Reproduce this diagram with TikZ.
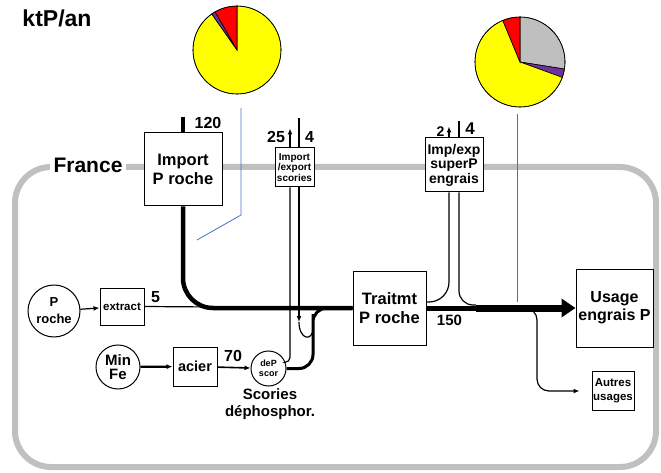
\documentclass[tikz,border=0pt]{standalone}
\usepackage{fontspec}
\setmainfont{Liberation Sans}
\usetikzlibrary{arrows.meta}
\definecolor{pyellow}{RGB}{255,255,0}
\definecolor{pred}{RGB}{255,0,0}
\definecolor{ppurple}{RGB}{112,48,160}
\definecolor{pgrey}{RGB}{191,191,191}
\definecolor{framegray}{RGB}{192,192,192}
\definecolor{guide}{RGB}{68,114,196}
\newcommand{\fsz}[2]{\fontsize{#1}{#2}\selectfont\bfseries}
\tikzset{
  pbox/.style  = {draw, fill=white, line width=1pt, align=center,
                  inner sep=0pt, font=\fsz{16.5}{19}},
  pcirc/.style = {pbox, circle},
  lbl/.style   = {font=\fsz{16}{19}, inner sep=0pt, align=center},
  fthin/.style = {draw=black, line width=1.2pt},
  fmed/.style  = {draw=black, line width=2.2pt},
  fthick/.style= {draw=black, line width=4.5pt},
  arr/.style   = {-{Latex[length=6pt,width=5pt]}},
  slice/.style = {draw=black, line width=0.6pt},
}

\begin{document}
\begin{tikzpicture}[x=1pt, y=-1pt]
  \useasboundingbox (0,0) rectangle (661,473);

  % France
  \draw[framegray, line width=6pt, rounded corners=36pt] (15,167) rectangle (656,467);

  % pies
  \begin{scope}[shift={(237,50)}]
    \filldraw[slice, fill=pyellow] (0,0) -- (125:44pt) arc[start angle=125, end angle=450, radius=44pt] -- cycle;
    \filldraw[slice, fill=pred] (0,0) -- (90:44pt) arc[start angle=90, end angle=120, radius=44pt] -- cycle;
    \filldraw[slice, fill=ppurple] (0,0) -- (120:44pt) arc[start angle=120, end angle=125, radius=44pt] -- cycle;
    \draw[slice] (0,0) circle[radius=44pt];
  \end{scope}
  \begin{scope}[shift={(520,62)}]
    \filldraw[slice, fill=pgrey] (0,0) -- (-9:45pt) arc[start angle=-9, end angle=90, radius=45pt] -- cycle;
    \filldraw[slice, fill=ppurple] (0,0) -- (-20:45pt) arc[start angle=-20, end angle=-9, radius=45pt] -- cycle;
    \filldraw[slice, fill=pyellow] (0,0) -- (112.5:45pt) arc[start angle=112.5, end angle=340, radius=45pt] -- cycle;
    \filldraw[slice, fill=pred] (0,0) -- (90:45pt) arc[start angle=90, end angle=112.5, radius=45pt] -- cycle;
    \draw[slice] (0,0) circle[radius=45pt];
  \end{scope}

  \draw[guide, line width=0.8pt] (241,108) -- (241,215) -- (197,240);
  \draw[guide, line width=0.7pt] (517,114) -- (517,302);

  \node[lbl, font=\fsz{23}{25}] (unit) at (57,18) {ktP/an};
  \node[lbl, font=\fsz{21}{23}, fill=white, inner sep=4pt] (fr) at (88,165) {France};

  \node[pbox, minimum width=78pt, minimum height=73pt] (imp) at (183,169.5) {Import\\P roche};
  \node[pbox, minimum width=39pt, minimum height=39pt, font=\fsz{10}{8}] (scor) at (294.5,167.5) {Import\\/export\\scories};
  \node[pbox, minimum width=58pt, minimum height=54pt, font=\fsz{14}{14.5}] (sup) at (454,165) {Imp/exp\\superP\\engrais};
  \node[pcirc, minimum size=52pt, font=\fsz{13}{17}] (proche) at (54,311) {P\\roche};
  \node[pbox, minimum width=44pt, minimum height=37pt, font=\fsz{11.5}{13}] (extract) at (122,306.5) {extract};
  \node[pcirc, minimum size=44pt, font=\fsz{15}{14.5}] (minfe) at (118,367) {Min\\Fe};
  \node[pbox, minimum width=44pt, minimum height=39pt, font=\fsz{14.5}{16}] (acier) at (195,366.5) {acier};
  \node[pcirc, minimum size=35pt, font=\fsz{9}{10}] (dep) at (268.5,368.5) {deP\\scor};
  \node[lbl, font=\fsz{15}{17}] (deplbl) at (270,404) {Scories\\déphosphor.};
  \node[pbox, minimum width=73pt, minimum height=74pt] (traitmt) at (389.5,308) {Traitmt\\P roche};
  \node[pbox, minimum width=77pt, minimum height=78pt, font=\fsz{16}{18}] (usage) at (614.5,308) {Usage\\engrais P};
  \node[pbox, minimum width=42pt, minimum height=39pt, font=\fsz{11.5}{14}] (autres) at (613,391) {Autres\\usages};

  \node[lbl] (v120) at (208,123) {120};
  \node[lbl] (v25) at (276,137) {25};
  \node[lbl] (v4a) at (309.5,137) {4};
  \node[lbl, font=\fsz{14}{16}] (v2) at (440.5,131.5) {2};
  \node[lbl, font=\fsz{17}{19}] (v4b) at (470,128.5) {4};
  \node[lbl] (v5) at (155.5,297.5) {5};
  \node[lbl] (v70) at (233,356) {70};
  \node[lbl, font=\fsz{15}{17}] (v150) at (449.5,320.5) {150};

  % P roche
  \draw[fthick] (imp.north) -- ++(0,-15);
  \draw[fthin, arr] (proche) -- (extract);
  \draw[fthin] (extract.east) -- (traitmt.west);
  \draw[fthick, rounded corners=30pt] (imp.south) |- (traitmt.west);

  % scories
  \coordinate (s4) at (299,322);
  \coordinate (jscor) at (313,328);
  \draw[fmed, arr] (minfe) -- (acier);
  \draw[line width=1.6pt, arr] (acier) -- (dep);
  \draw[fthin, rounded corners=5pt] (dep.20) -| ([xshift=-4.5pt]scor.south);
  \draw[fthin, arr] ([xshift=-4.5pt]scor.north) -- ++(0,-19);
  \draw[fthin] ([xshift=4.5pt]scor.north) -- ++(0,-29);
  \draw[fthin, arr] ([xshift=4.5pt]scor.south) -- (s4);
  \draw[fthin] (s4) .. controls +(0,18) and +(0,14) .. (jscor);
  \draw[line width=3pt, rounded corners=14pt] (dep.east) -| (jscor) |- (traitmt.west);

  % superP
  \coordinate (jsup) at (476,305);
  \coordinate (bout) at (526,308);
  \draw[fthin, arr] ([xshift=-5pt]sup.north) -- ++(0,-11);
  \draw[fthin] ([xshift=5pt]sup.north) -- ++(0,-16);
  \draw[fthin, rounded corners=20pt] ([xshift=-5pt]sup.south) |- ([yshift=6pt]traitmt.east);
  \draw[fthin, rounded corners=14pt] ([xshift=5pt]sup.south) |- (jsup);

  % usage
  \draw[line width=5pt] (traitmt.east) -- (jsup |- traitmt.east);
  \draw[line width=7pt, -{Triangle[length=14pt,width=18pt]}] (jsup |- traitmt.east) -- (usage.west);
  \draw[fthin, arr, rounded corners=12pt] (bout) -| ++(11,40) |- ([xshift=-12pt]autres.west);
\end{tikzpicture}
\end{document}
